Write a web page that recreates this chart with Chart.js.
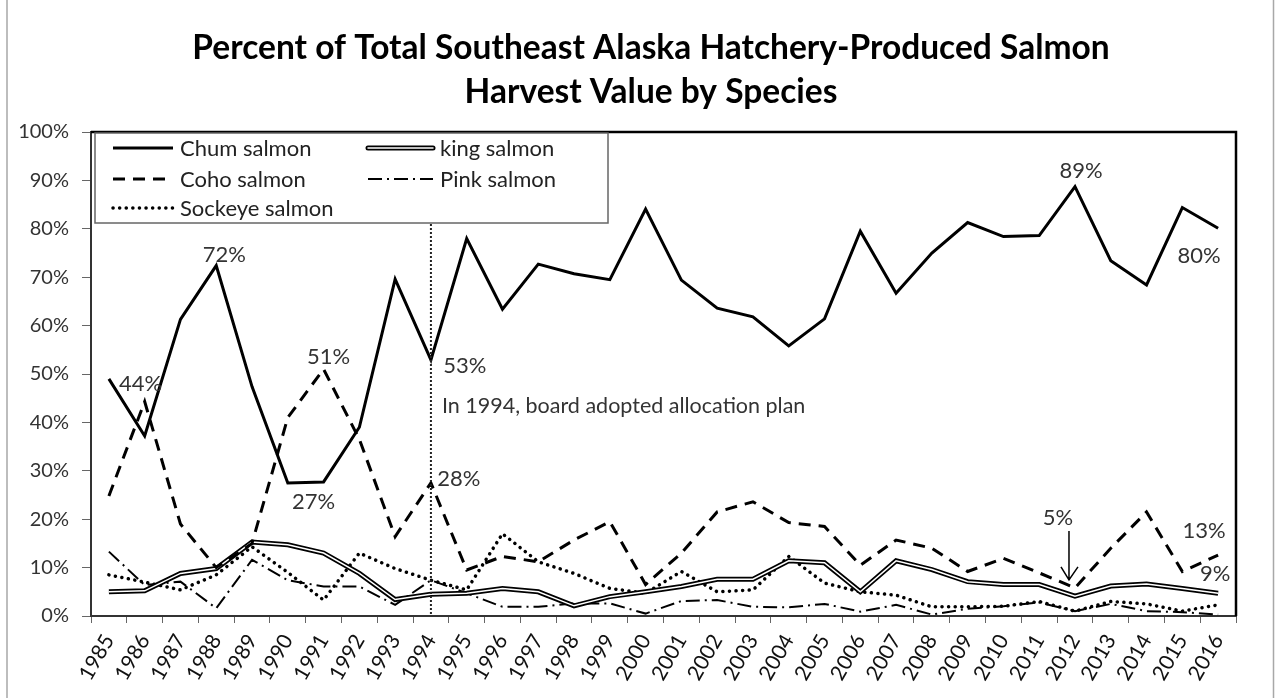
<!DOCTYPE html>
<html>
<head>
<meta charset="utf-8">
<script src="https://cdn.jsdelivr.net/npm/chart.js@4.4.1/dist/chart.umd.min.js"></script>
<style>
  html, body { margin: 0; padding: 0; background: #fff; }
  #wrap { width: 1275px; height: 698px; }
</style>
</head>
<body>
<div id="wrap"><canvas id="salmonChart" width="1275" height="698"></canvas></div>
<script>
// values (percent of total harvest value)
const years = ['1985','1986','1987','1988','1989','1990','1991','1992','1993','1994','1995','1996','1997','1998','1999','2000',
  '2001','2002','2003','2004','2005','2006','2007','2008','2009','2010','2011','2012','2013','2014','2015','2016'];
const chum = [49, 37.2, 61.3, 72.4, 47.4, 27.5, 27.7, 39, 69.6, 52.9, 78, 63.4, 72.7, 70.7, 69.5, 84.1,
  69.4, 63.6, 61.8, 55.8, 61.4, 79.5, 66.7, 75, 81.3, 78.4, 78.6, 88.7, 73.4, 68.4, 84.4, 80.1];
const coho = [24.8, 44.3, 19, 10, 15, 41, 51, 36.5, 16.4, 27.5, 9.5, 12.3, 11.2, 15.7, 19.5, 6.5,
  13, 21.5, 23.6, 19.3, 18.5, 10.5, 15.7, 14, 9.2, 11.9, 8.9, 5.8, 14, 21.5, 9.2, 12.6];
const king = [5, 5.2, 8.8, 9.8, 15.3, 14.7, 13, 8.8, 3.4, 4.5, 4.7, 5.7, 5, 2.1, 4, 5,
  6.1, 7.6, 7.6, 11.4, 11, 5, 11.4, 9.6, 7.1, 6.5, 6.5, 4.1, 6.2, 6.6, 5.7, 4.7];
const pink = [13.3, 6.4, 7.1, 1.6, 11.6, 7.4, 6.1, 6.1, 2.3, 7.4, 4.7, 1.9, 1.9, 2.6, 2.6, 0.5,
  3.1, 3.3, 1.9, 1.8, 2.5, 0.9, 2.3, 0.3, 1.5, 2, 2.8, 1, 2.5, 1, 0.8, 0.3];
const sockeye = [8.5, 7, 5.4, 8.5, 14.3, 9, 3.3, 13, 9.8, 7.4, 5.4, 17, 11.2, 8.8, 5.7, 4.7,
  9.2, 5, 5.4, 12.3, 6.8, 5, 4.3, 1.9, 1.9, 2, 3, 1, 3, 2.5, 1, 2.3];
const seriesNames = ['Chum salmon', 'king salmon', 'Coho salmon', 'Pink salmon', 'Sockeye salmon'];
const titleLines = ['Percent of Total Southeast Alaska Hatchery-Produced Salmon', 'Harvest Value by Species'];
const policyYear = '1994';
const policyNote = 'In 1994, board adopted allocation plan';

const FONT = 'Lato, "Open Sans", sans-serif';

// callouts: text, series, year index, offset of text centre from the point
const callouts = [
  { text: '72%', data: chum, i: 3, dx: 8, dy: -11 },
  { text: '44%', data: coho, i: 1, dx: -4, dy: -18 },
  { text: '51%', data: coho, i: 6, dx: 5, dy: -12 },
  { text: '27%', data: chum, i: 6, dx: -10, dy: 20 },
  { text: '53%', data: chum, i: 9, dx: 34, dy: 6 },
  { text: '28%', data: coho, i: 9, dx: 28, dy: -4 },
  { text: '89%', data: chum, i: 27, dx: 6, dy: -16 },
  { text: '80%', data: chum, i: 31, dx: -19, dy: 28 },
  { text: '5%', data: coho, i: 27, dx: -17, dy: -70 },
  { text: '13%', data: coho, i: 31, dx: -14, dy: -24 },
  { text: '9%', data: king, i: 31, dx: -3, dy: -19 }
];

function drawSample(ctx, kind, x1, x2, y) {
  ctx.save();
  ctx.strokeStyle = '#000';
  ctx.lineCap = 'butt';
  ctx.beginPath();
  if (kind === 'king') {
    ctx.lineWidth = 5;
    ctx.lineCap = 'round';
    ctx.moveTo(x1, y); ctx.lineTo(x2, y); ctx.stroke();
    ctx.strokeStyle = '#fff';
    ctx.lineWidth = 1.5;
    ctx.beginPath();
    ctx.moveTo(x1, y); ctx.lineTo(x2, y); ctx.stroke();
    ctx.restore();
    return;
  }
  if (kind === 'chum') { ctx.lineWidth = 3; }
  if (kind === 'coho') { ctx.lineWidth = 3; ctx.setLineDash([12, 8]); }
  if (kind === 'pink') { ctx.lineWidth = 2; ctx.setLineDash([14, 5, 2, 5]); }
  if (kind === 'sockeye') { ctx.lineWidth = 3.5; ctx.lineCap = 'round'; ctx.setLineDash([0.1, 6.5]); }
  ctx.moveTo(x1, y); ctx.lineTo(x2, y); ctx.stroke();
  ctx.restore();
}

const decorations = {
  id: 'decorations',
  beforeDraw(chart) {
    const ctx = chart.ctx;
    ctx.save();
    ctx.fillStyle = '#fff';
    ctx.fillRect(0, 0, chart.width, chart.height);
    ctx.strokeStyle = '#a8a8a8';
    ctx.lineWidth = 1.5;
    ctx.beginPath();
    ctx.moveTo(7, 0); ctx.lineTo(7, chart.height);
    ctx.moveTo(1273.5, 0); ctx.lineTo(1273.5, chart.height);
    ctx.stroke();

    // title, centred over the whole chart box
    ctx.fillStyle = '#000';
    ctx.font = 'bold 33.5px ' + FONT;
    ctx.textAlign = 'center';
    ctx.textBaseline = 'middle';
    ctx.fillText(titleLines[0], 651, 48);
    ctx.fillText(titleLines[1], 651, 92);
    ctx.restore();
  },
  afterDatasetsDraw(chart) {
    const ctx = chart.ctx;
    const xs = chart.scales.x, ys = chart.scales.y;
    const area = chart.chartArea;
    ctx.save();

    // policy line
    const px = xs.getPixelForValue(years.indexOf(policyYear));
    ctx.strokeStyle = '#222';
    ctx.lineWidth = 2;
    ctx.setLineDash([2, 2]);
    ctx.beginPath();
    ctx.moveTo(px, area.top); ctx.lineTo(px, area.bottom);
    ctx.stroke();
    ctx.setLineDash([]);

    ctx.fillStyle = '#333';
    ctx.font = '21.5px ' + FONT;
    ctx.textAlign = 'left';
    ctx.textBaseline = 'middle';
    ctx.fillText(policyNote, px + 11, ys.getPixelForValue(43.4));

    // callouts
    ctx.textAlign = 'center';
    ctx.font = '22px ' + FONT;
    callouts.forEach(c => {
      const x = xs.getPixelForValue(c.i);
      const y = ys.getPixelForValue(c.data[c.i]);
      ctx.fillText(c.text, x + c.dx, y + c.dy);
    });

    // arrow to 2012 coho low
    const ax = xs.getPixelForValue(27) - 6;
    const ay = ys.getPixelForValue(coho[27]);
    ctx.strokeStyle = '#000';
    ctx.lineWidth = 1.5;
    ctx.beginPath();
    ctx.moveTo(ax, ay - 57); ctx.lineTo(ax, ay - 8);
    ctx.moveTo(ax - 8, ay - 21); ctx.lineTo(ax, ay - 8); ctx.lineTo(ax + 9, ay - 21);
    ctx.stroke();

    // plot frame top / right
    ctx.strokeStyle = '#000';
    ctx.lineWidth = 2.5;
    ctx.beginPath();
    ctx.moveTo(area.left, area.top); ctx.lineTo(area.right, area.top); ctx.lineTo(area.right, area.bottom);
    ctx.stroke();

    // legend box
    const lx = area.left + 4, ly = area.top + 1, lw = 513, lh = 90;
    ctx.fillStyle = '#fff';
    ctx.fillRect(lx, ly, lw, lh);
    ctx.strokeStyle = '#666';
    ctx.lineWidth = 1.5;
    ctx.strokeRect(lx, ly, lw, lh);
    const entries = [
      { kind: 'chum', name: seriesNames[0], col: 0, row: 0 },
      { kind: 'king', name: seriesNames[1], col: 1, row: 0 },
      { kind: 'coho', name: seriesNames[2], col: 0, row: 1 },
      { kind: 'pink', name: seriesNames[3], col: 1, row: 1 },
      { kind: 'sockeye', name: seriesNames[4], col: 0, row: 2 }
    ];
    const rowY = [ly + 15, ly + 46, ly + 75];
    ctx.font = '22px ' + FONT;
    ctx.textAlign = 'left';
    ctx.fillStyle = '#222';
    entries.forEach(e => {
      const s1 = e.col === 0 ? lx + 18 : lx + 273;
      const s2 = e.col === 0 ? lx + 78 : lx + 338;
      drawSample(ctx, e.kind, s1, s2, rowY[e.row]);
      ctx.fillText(e.name, s2 + 7, rowY[e.row] + 1);
    });

    ctx.restore();
  }
};

const ctx = document.getElementById('salmonChart').getContext('2d');
new Chart(ctx, {
  type: 'line',
  data: {
    labels: years,
    datasets: [
      { label: seriesNames[0], data: chum, borderColor: '#000', borderWidth: 3, borderJoinStyle: 'miter' },
      { label: seriesNames[2], data: coho, borderColor: '#000', borderWidth: 3, borderDash: [12, 8] },
      { label: seriesNames[1] + ' inner', data: king, borderColor: '#fff', borderWidth: 1.5 },
      { label: seriesNames[1], data: king, borderColor: '#000', borderWidth: 5 },
      { label: seriesNames[4], data: sockeye, borderColor: '#000', borderWidth: 3.5, borderDash: [0.1, 6.5], borderCapStyle: 'round' },
      { label: seriesNames[3], data: pink, borderColor: '#000', borderWidth: 2, borderDash: [14, 5, 2, 5] }
    ]
  },
  options: {
    responsive: false,
    animation: false,
    devicePixelRatio: 1,
    elements: { point: { radius: 0 }, line: { tension: 0, fill: false } },
    layout: { padding: { left: 0, right: 39, top: 132, bottom: 0 } },
    plugins: {
      legend: { display: false },
      tooltip: { enabled: false },
      title: { display: false }
    },
    scales: {
      x: {
        type: 'category',
        offset: true,
        grid: { display: true, drawOnChartArea: false, drawTicks: true, tickLength: 7, color: '#666', offset: true },
        border: { display: true, color: '#333', width: 2 },
        ticks: { autoSkip: false, minRotation: 60, maxRotation: 60, padding: 7, color: '#111', font: { family: FONT, size: 21 } },
        afterFit(scale) { scale.height = 82; }
      },
      y: {
        min: 0,
        max: 100,
        grid: { display: true, drawOnChartArea: false, tickLength: 9, color: '#666' },
        border: { display: true, color: '#333', width: 2 },
        ticks: { stepSize: 10, padding: 13, color: '#333', font: { family: FONT, size: 20 }, callback: v => v + '%' },
        afterFit(scale) { scale.width = 91; }
      }
    }
  },
  plugins: [decorations]
});
</script>
</body>
</html>
